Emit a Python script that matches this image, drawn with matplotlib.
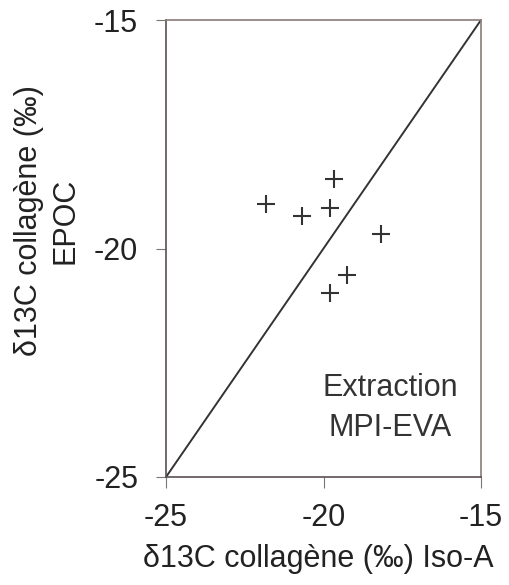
import numpy as np
import matplotlib
matplotlib.use('Agg')
import matplotlib.pyplot as plt

plt.rcParams['font.family'] = ['Liberation Sans', 'DejaVu Sans']
plt.rcParams['axes.unicode_minus'] = False

# data
iso_a = [-21.83, -20.69, -19.79, -19.66, -18.17, -19.26, -19.79]
epoc = [-19.03, -19.29, -19.11, -18.49, -19.69, -20.58, -20.98]
ticks = [-25, -20, -15]
lims = [-25, -15]

fs = 22
fig = plt.figure(figsize=(5.09, 5.85), dpi=100)
ax = fig.add_axes([166/509, 1-477/585, 315/509, 457/585])

ax.plot(lims, lims, color='#333333', lw=1.4)
ax.plot(iso_a, epoc, '+', color='#333333', markersize=13, markeredgewidth=1.5)

ax.set_xlim(lims)
ax.set_ylim(lims)
ax.set_xticks(ticks)
ax.set_yticks(ticks)
ax.tick_params(axis='both', labelsize=fs, color='#777777', direction='out',
               labelcolor='#222222')
ax.tick_params(axis='x', length=8, pad=11)
ax.tick_params(axis='y', length=7, pad=13)
for s in ['top', 'right']:
    ax.spines[s].set_color('#8a7b78')
for s in ['left', 'bottom']:
    ax.spines[s].set_color('#5a5050')
for s in ax.spines.values():
    s.set_linewidth(1.2)

fig.text(318/509, 1-559/585, 'δ13C collagène (‰) Iso-A', fontsize=fs,
         ha='center', va='center', color='#222222')
fig.text(47/509, 1-221/585, 'δ13C collagène (‰)\nEPOC', fontsize=fs,
         ha='center', va='center', rotation=90, color='#222222',
         linespacing=1.3, multialignment='center')
ax.text((390-166)/315, (477-408)/457, 'Extraction\nMPI-EVA', transform=ax.transAxes,
        fontsize=fs, ha='center', va='center', color='#333333', linespacing=1.4)

fig.savefig('out.png', dpi=100)
